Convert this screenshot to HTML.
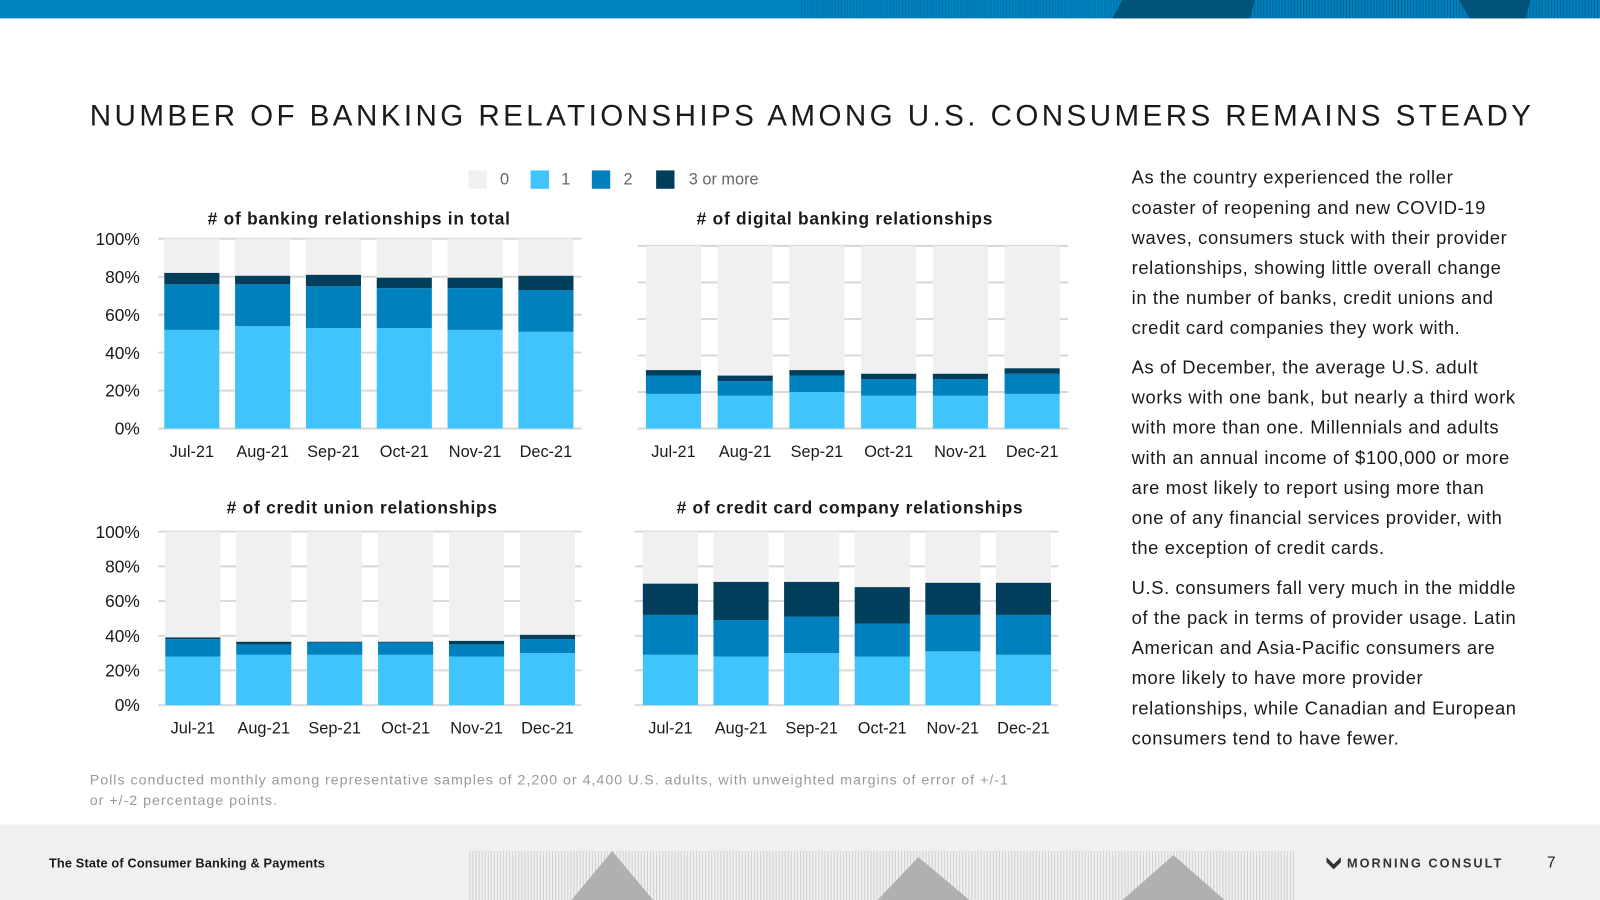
<!DOCTYPE html>
<html><head><meta charset="utf-8"><style>
html,body{margin:0;padding:0;background:#fff;}
svg{display:block;font-family:"Liberation Sans",sans-serif;}
</style></head><body>
<svg id="s" width="1600" height="900" viewBox="0 0 1568 882" preserveAspectRatio="none" xmlns="http://www.w3.org/2000/svg">
<rect x="0" y="0" width="1568" height="18" fill="#0082bf"/>
<g id="pat"></g>
<text x="88" y="123" font-size="29" letter-spacing="3.35" fill="#1a1a1a">NUMBER OF BANKING RELATIONSHIPS AMONG U.S. CONSUMERS REMAINS STEADY</text>
<g font-size="16" fill="#666">
<rect x="459" y="167" width="18" height="18" fill="#f0f0f0"/><text x="490" y="181">0</text>
<rect x="520" y="167" width="18" height="18" fill="#40c4fc"/><text x="550" y="181">1</text>
<rect x="580" y="167" width="18" height="18" fill="#0080bd"/><text x="611" y="181">2</text>
<rect x="643" y="167" width="18" height="18" fill="#003e5c"/><text x="675" y="181">3 or more</text>
</g>
<g id="charts"></g>
<g font-size="18" letter-spacing="0.6" fill="#1a1a1a">
<text x="1109" y="180">As the country experienced the roller</text>
<text x="1109" y="209.5">coaster of reopening and new COVID-19</text>
<text x="1109" y="239">waves, consumers stuck with their provider</text>
<text x="1109" y="268.5">relationships, showing little overall change</text>
<text x="1109" y="298">in the number of banks, credit unions and</text>
<text x="1109" y="327.5">credit card companies they work with.</text>
<text x="1109" y="366">As of December, the average U.S. adult</text>
<text x="1109" y="395.5">works with one bank, but nearly a third work</text>
<text x="1109" y="425">with more than one. Millennials and adults</text>
<text x="1109" y="454.5">with an annual income of $100,000 or more</text>
<text x="1109" y="484">are most likely to report using more than</text>
<text x="1109" y="513.5">one of any financial services provider, with</text>
<text x="1109" y="543">the exception of credit cards.</text>
<text x="1109" y="582">U.S. consumers fall very much in the middle</text>
<text x="1109" y="611.5">of the pack in terms of provider usage. Latin</text>
<text x="1109" y="641">American and Asia-Pacific consumers are</text>
<text x="1109" y="670.5">more likely to have more provider</text>
<text x="1109" y="700">relationships, while Canadian and European</text>
<text x="1109" y="729.5">consumers tend to have fewer.</text>
</g>
<g font-size="14" letter-spacing="0.95" fill="#999">
<text x="88" y="769">Polls conducted monthly among representative samples of 2,200 or 4,400 U.S. adults, with unweighted margins of error of +/-1</text>
<text x="88" y="789">or +/-2 percentage points.</text>
</g>
<rect x="0" y="808" width="1568" height="74" fill="#f0f0f0"/>
<g id="fpat"></g>
<text x="48" y="850" font-size="12.5" font-weight="bold" letter-spacing="0.15" fill="#1a1a1a">The State of Consumer Banking &amp; Payments</text>
<g>
<path d="M1300 840 L1307 847 L1314 840 L1314 845 L1307 852 L1300 845Z" fill="#333"/>
<text x="1320" y="850" font-size="12.5" font-weight="bold" letter-spacing="2" fill="#333">MORNING CONSULT</text>
</g>
<text x="1516" y="850" font-size="15" fill="#1a1a1a">7</text>
</svg>
<script>
const categories=["Jul-21","Aug-21","Sep-21","Oct-21","Nov-21","Dec-21"];
const yTicks=[0,20,40,60,80,100];
const totalOne=[52,54,53,53,52,51];
const totalTwo=[24,22,22,21,22,22];
const totalThree=[6,4.5,6,5.5,5.5,7.5];
const digitalOne=[19,18,20,18,18,19];
const digitalTwo=[10,8,9,9,9,11];
const digitalThree=[3,3,3,3,3,3];
const cuOne=[28,29,29,29,28,30];
const cuTwo=[10,6,7,7,7,8];
const cuThree=[1,1.5,0.5,0.5,2,2.5];
const ccOne=[29,28,30,28,31,29];
const ccTwo=[23,21,21,19,21,23];
const ccThree=[18,22,20,21,18.5,18.5];
const NS="http://www.w3.org/2000/svg";
const C=["#40c4fc","#0080bd","#003e5c"];
const charts=[
 {id:"total",title:"# of banking relationships in total",gx0:155,gx1:570,y0:420,y100:234,bx:161,pitch:69.4,ty:220,tx:352,ax:true,s:[totalOne,totalTwo,totalThree]},
 {id:"digital",title:"# of digital banking relationships",gx0:625,gx1:1047,y0:420,y100:241,bx:633,pitch:70.3,ty:220,tx:828,ax:false,s:[digitalOne,digitalTwo,digitalThree]},
 {id:"credit-union",title:"# of credit union relationships",gx0:155,gx1:570,y0:691,y100:521,bx:162,pitch:69.5,ty:503,tx:355,ax:true,s:[cuOne,cuTwo,cuThree]},
 {id:"credit-card",title:"# of credit card company relationships",gx0:622,gx1:1037,y0:691,y100:521,bx:630,pitch:69.2,ty:503,tx:833,ax:false,s:[ccOne,ccTwo,ccThree]}
];
const root=document.getElementById("charts");
function mk(t,a,p){const e=document.createElementNS(NS,t);for(const k in a)e.setAttribute(k,a[k]);(p||root).appendChild(e);return e;}
charts.forEach(c=>{
 const g=mk("g",{});
 
 
 const y=v=>c.y0-(c.y0-c.y100)*v/100;
 const t=mk("text",{x:c.tx,y:c.ty,"font-size":17,"font-weight":"bold","letter-spacing":0.75,"text-anchor":"middle",fill:"#1a1a1a"},g);t.textContent=c.title;
 
 
 yTicks.forEach(v=>{
  const l=mk("line",{x1:c.gx0,x2:c.gx1,y1:y(v),y2:y(v),stroke:"#d9d9d9","stroke-width":2},g);
  
  
  if(c.ax){const tt=mk("text",{x:137,y:y(v)+6,"font-size":17,"text-anchor":"end",fill:"#1a1a1a"},g);tt.textContent=v+"%";
   
   }
 });
 categories.forEach((cat,i)=>{
  const x=c.bx+i*c.pitch;
  const bg=mk("rect",{x:x,y:y(100),width:54,height:y(0)-y(100),fill:"#f0f0f0"},g);
  
  
  let base=0;
  c.s.forEach((arr,k)=>{
   const top=base+arr[i];
   const r=mk("rect",{x:x,y:y(top),width:54,height:y(base)-y(top),fill:C[k]},g);
   
   
   base=top;
  });
  const lt=mk("text",{x:x+27,y:c.y0+28,"font-size":16,"text-anchor":"middle",fill:"#1a1a1a"},g);lt.textContent=cat;
  
  
 });
});
const pat=document.getElementById("pat");
for(let x=785;x<1568;x+=3){mk("rect",{x:x,y:0,width:1,height:18,fill:x>1100?"#005a85":"#006fa6",opacity:0.7},pat);}
mk("polygon",{points:"1100,0 1230,0 1225,18 1090,18",fill:"#005278"},pat);
mk("polygon",{points:"1430,0 1500,0 1495,18 1440,18",fill:"#005278"},pat);
const fp=document.getElementById("fpat");
for(let x=460;x<1268;x+=3){mk("rect",{x:x,y:834,width:1,height:48,fill:"#c8c8c8",opacity:0.8},fp);}
mk("polygon",{points:"560,882 600,834 640,882",fill:"#b0b0b0"},fp);
mk("polygon",{points:"860,882 900,840 950,882",fill:"#b0b0b0"},fp);
mk("polygon",{points:"1100,882 1150,838 1200,882",fill:"#b0b0b0"},fp);
</script>
</body></html>
